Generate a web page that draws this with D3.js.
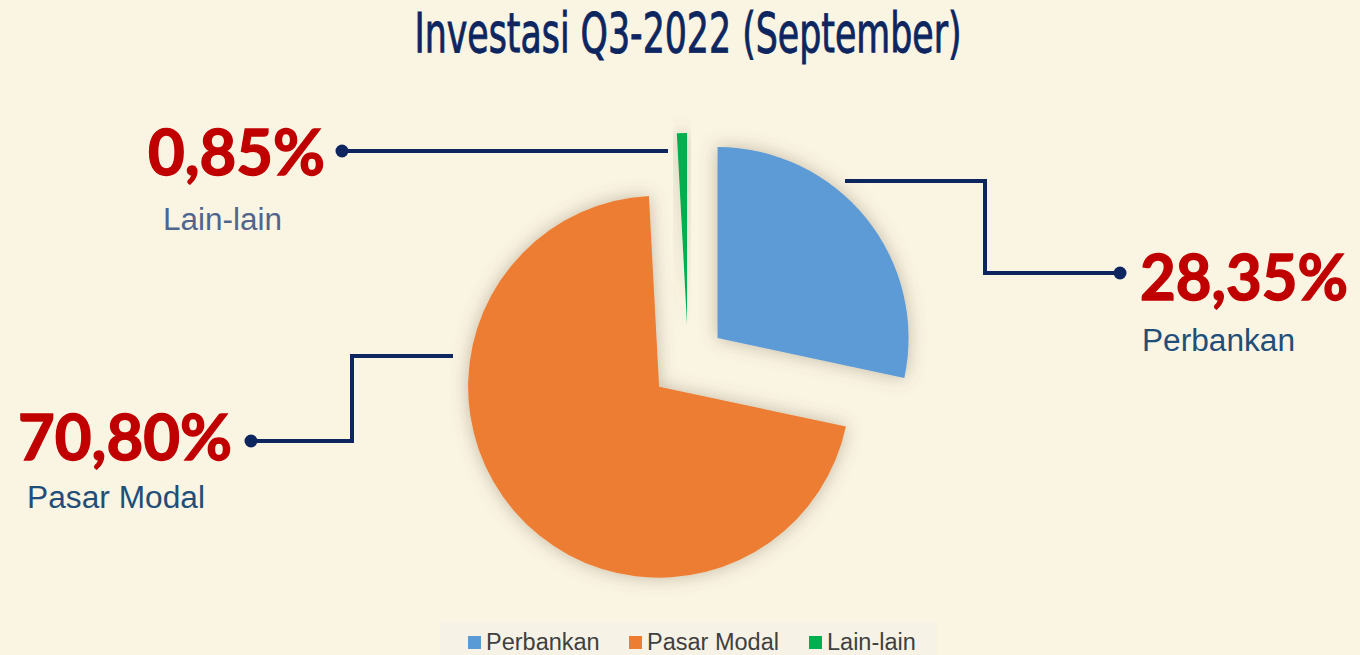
<!DOCTYPE html>
<html>
<head>
<meta charset="utf-8">
<script src="https://cdn.jsdelivr.net/npm/d3@7"></script>
<style>
  body { margin: 0; background: #FAF4E3; }
  svg { display: block; }
</style>
</head>
<body>
<svg width="1360" height="655"></svg>
<script>
// chart data
const categories = ["Perbankan", "Pasar Modal", "Lain-lain"];
const values = [28.35, 70.80, 0.85];
const valueLabels = ["28,35%", "70,80%", "0,85%"];
const colors = ["#5B9BD5", "#ED7D31", "#00B050"];

const svg = d3.select("svg");
const width = +svg.attr("width");
const height = +svg.attr("height");

svg.append("rect")
  .attr("width", width)
  .attr("height", height)
  .attr("fill", "#FAF4E3");

// soft shadow around the slices
const defs = svg.append("defs");
const filter = defs.append("filter")
  .attr("id", "glow")
  .attr("x", "-30%").attr("y", "-30%")
  .attr("width", "160%").attr("height", "160%");
filter.append("feGaussianBlur")
  .attr("in", "SourceAlpha")
  .attr("stdDeviation", 9)
  .attr("result", "blur");
filter.append("feFlood")
  .attr("flood-color", "#6E6040")
  .attr("flood-opacity", 0.4);
filter.append("feComposite")
  .attr("in2", "blur")
  .attr("operator", "in")
  .attr("result", "shadow");
const merge = filter.append("feMerge");
merge.append("feMergeNode").attr("in", "shadow");
merge.append("feMergeNode").attr("in", "SourceGraphic");

// title
svg.append("text")
  .attr("x", 688)
  .attr("y", 52)
  .attr("text-anchor", "middle")
  .attr("textLength", 547)
  .attr("lengthAdjust", "spacingAndGlyphs")
  .style("font-family", "'Liberation Sans Narrow', 'DejaVu Sans Condensed', 'Roboto', sans-serif")
  .style("font-size", "55px")
  .style("fill", "#0D2660")
  .style("stroke", "#0D2660")
  .style("stroke-width", 0.9)
  .text("Investasi Q3-2022 (September)");

// pie
const cx = 688, cy = 362, radius = 191, explode = 38;

const pie = d3.pie().sort(null).value(d => d);
const arc = d3.arc().innerRadius(0).outerRadius(radius);
const arcs = pie(values);

const g = svg.append("g")
  .attr("transform", `translate(${cx},${cy})`);

g.selectAll(".slice")
  .data(arcs)
  .enter().append("path")
    .attr("class", "slice")
    .attr("d", arc)
    .attr("fill", (d, i) => colors[i])
    .attr("filter", "url(#glow)")
    .attr("transform", d => {
      const a = (d.startAngle + d.endAngle) / 2;
      return `translate(${explode * Math.sin(a)},${-explode * Math.cos(a)})`;
    });

// leader lines
const leaders = [
  [[845, 181], [985, 181], [985, 273], [1120, 273]],
  [[453, 356], [352, 356], [352, 441], [251, 441]],
  [[668, 151], [342, 151]]
];
const line = d3.line();
leaders.forEach(pts => {
  svg.append("path")
    .attr("d", line(pts))
    .attr("fill", "none")
    .attr("stroke", "#0D2660")
    .attr("stroke-width", 4);
  const end = pts[pts.length - 1];
  svg.append("circle")
    .attr("cx", end[0])
    .attr("cy", end[1])
    .attr("r", 6.5)
    .attr("fill", "#0D2660");
});

// data labels
const labelPos = [
  {x: 1140, y: 300, w: 208, nx: 1142, ny: 351, nw: 153, nc: "#1F4E79"},
  {x: 18, y: 460, w: 214, nx: 27, ny: 508, nw: 178, nc: "#1F4E79"},
  {x: 148, y: 175, w: 177, nx: 163, ny: 230, nw: 119, nc: "#50658E"}
];
labelPos.forEach((p, i) => {
  svg.append("text")
    .attr("x", p.x)
    .attr("y", p.y)
    .attr("textLength", p.w)
    .attr("lengthAdjust", "spacingAndGlyphs")
    .style("font-family", "Lato, 'Open Sans', sans-serif")
    .style("font-weight", "bold")
    .style("font-size", "63px")
    .style("fill", "#C00000")
    .style("stroke", "#C00000")
    .style("stroke-width", 1.4)
    .text(valueLabels[i]);
  svg.append("text")
    .attr("x", p.nx)
    .attr("y", p.ny)
    .attr("textLength", p.nw)
    .attr("lengthAdjust", "spacingAndGlyphs")
    .style("font-family", "'Liberation Sans', Arial, sans-serif")
    .style("font-size", "31px")
    .style("fill", p.nc)
    .text(categories[i]);
});

// legend
svg.append("rect")
  .attr("x", 440)
  .attr("y", 622)
  .attr("width", 497)
  .attr("height", 40)
  .attr("fill", "#F6F3E6");

const legendX = [468, 629, 809];
const legend = svg.selectAll(".legend")
  .data(categories)
  .enter().append("g")
    .attr("class", "legend")
    .attr("transform", (d, i) => `translate(${legendX[i]},0)`);
legend.append("rect")
  .attr("x", 0)
  .attr("y", 636)
  .attr("width", 13)
  .attr("height", 13)
  .attr("fill", (d, i) => colors[i]);
legend.append("text")
  .attr("x", 18)
  .attr("y", 650)
  .style("font-family", "'Liberation Sans', Arial, sans-serif")
  .style("font-size", "23.5px")
  .style("fill", "#404040")
  .text(d => d);
</script>
</body>
</html>
